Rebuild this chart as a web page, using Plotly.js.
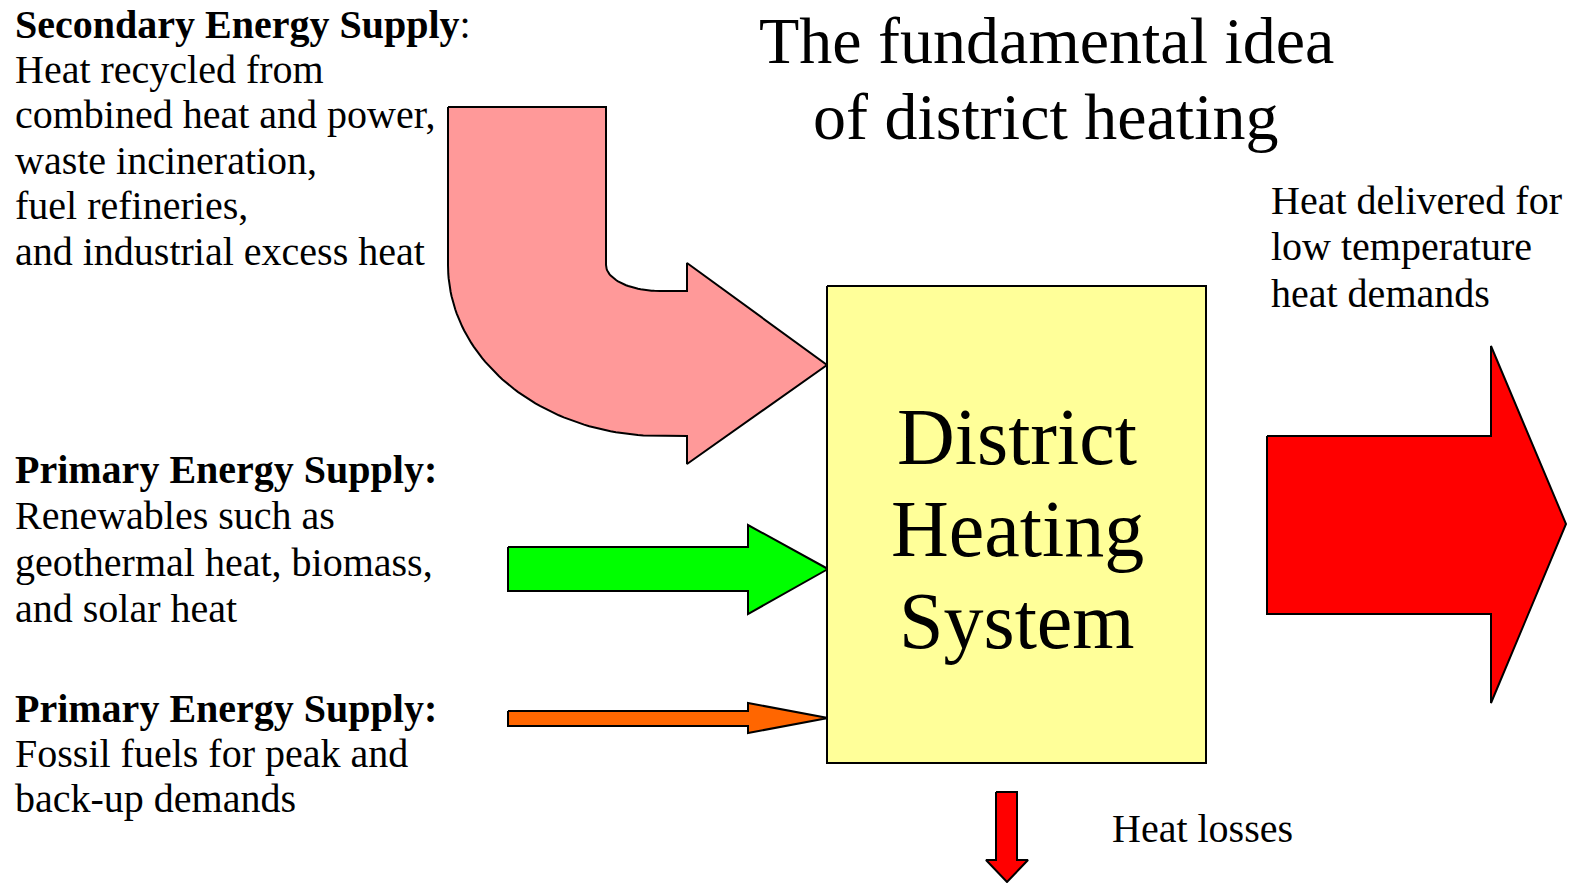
<!DOCTYPE html>
<html>
<head>
<meta charset="utf-8">
<script src="https://cdn.plot.ly/plotly-3.0.1.min.js"></script>
<style>html,body{margin:0;padding:0;background:#fff;}#chart{width:1572px;height:883px;}</style>
</head>
<body>
<div id="chart"></div>
<script>
// ---- Diagram geometry (pixel space, y downward) ----
const boxX = [827, 1206, 1206, 827, 827];
const boxY = [286, 286, 763, 763, 286];

const greenX = [508, 748, 748, 828, 748, 748, 508, 508];
const greenY = [547, 547, 525, 569, 614, 591, 591, 547];

const orangeX = [508, 748, 748, 828, 748, 748, 508, 508];
const orangeY = [711, 711, 703, 718, 733, 726, 726, 711];

const redX = [1267, 1491, 1491, 1566, 1491, 1491, 1267, 1267];
const redY = [436, 436, 346, 524, 703, 614, 614, 436];

const lossX = [996, 1017, 1017, 1028, 1007, 986, 996, 996];
const lossY = [792, 792, 860, 860, 882, 860, 860, 792];

const pinkTopX = [448, 606];
const pinkTopY = [107, 107];
const pinkHeadX = [687, 687, 827, 687, 687];
const pinkHeadY = [291, 263, 365, 464, 436];
const bendCenter = [660, 265];
const innerRadii = [54, 26];
const outerRadii = [212, 171];

// ---- Text lines ----
const titleLines = ["The fundamental idea", "of district heating"];
const boxLines = ["District", "Heating", "System"];
const secLines = ["<b>Secondary Energy Supply</b>:", "Heat recycled from", "combined heat and power,", "waste incineration,", "fuel refineries,", "and industrial excess heat"];
const renLines = ["<b>Primary Energy Supply:</b>", "Renewables such as", "geothermal heat, biomass,", "and solar heat"];
const fosLines = ["<b>Primary Energy Supply:</b>", "Fossil fuels for peak and", "back-up demands"];
const delLines = ["Heat delivered for", "low temperature", "heat demands"];
const lossLines = ["Heat losses"];

// ---- Text placement (block anchor, first-line centre, line pitch, size) ----
const blocks = [
  {lines: titleLines, x: 1046, y0: 40, dy: 76, size: 66, anchor: 'center'},
  {lines: boxLines, x: 1017, y0: 437, dy: 92, size: 80, anchor: 'center'},
  {lines: secLines, x: 14, y0: 24, dy: 45.4, size: 40, anchor: 'left'},
  {lines: renLines, x: 14, y0: 469.5, dy: 46.3, size: 40, anchor: 'left'},
  {lines: fosLines, x: 14, y0: 708.5, dy: 45, size: 40, anchor: 'left'},
  {lines: delLines, x: 1270, y0: 200, dy: 46.5, size: 40, anchor: 'left'},
  {lines: lossLines, x: 1111, y0: 828.5, dy: 0, size: 40, anchor: 'left'}
];

function arc(cx, cy, rx, ry, a0, a1, n) {
  const xs = [], ys = [];
  for (let i = 0; i <= n; i++) {
    const a = a0 + (a1 - a0) * i / n;
    xs.push(cx + rx * Math.cos(a));
    ys.push(cy + ry * Math.sin(a));
  }
  return [xs, ys];
}
const inner = arc(bendCenter[0], bendCenter[1], innerRadii[0], innerRadii[1], Math.PI, Math.PI / 2, 30);
const outer = arc(bendCenter[0], bendCenter[1], outerRadii[0], outerRadii[1], Math.PI / 2, Math.PI, 60);
const pinkX = [...pinkTopX, ...inner[0], ...pinkHeadX, ...outer[0], pinkTopX[0]];
const pinkY = [...pinkTopY, ...inner[1], ...pinkHeadY, ...outer[1], pinkTopY[0]];

function poly(x, y, fill) {
  return {x: x, y: y, type: 'scatter', mode: 'lines', fill: 'toself', fillcolor: fill,
    line: {color: '#000', width: 2}, hoverinfo: 'skip', showlegend: false};
}

const traces = [
  poly(pinkX, pinkY, '#FF9999'),
  poly(greenX, greenY, '#00FF00'),
  poly(orangeX, orangeY, '#FF6600'),
  poly(boxX, boxY, '#FFFF99'),
  poly(redX, redY, '#FF0000'),
  poly(lossX, lossY, '#FF0000')
];

const serif = '"Liberation Serif", "Times New Roman", serif';
const annotations = [];
blocks.forEach(b => {
  b.lines.forEach((t, i) => {
    annotations.push({text: t, x: b.x, y: b.y0 + i * b.dy, xref: 'x', yref: 'y',
      showarrow: false, xanchor: b.anchor, yanchor: 'middle', align: b.anchor, borderpad: 0,
      font: {family: serif, size: b.size, color: '#000'}});
  });
});

const layout = {
  width: 1572, height: 883,
  margin: {l: 0, r: 0, t: 0, b: 0},
  paper_bgcolor: '#fff', plot_bgcolor: '#fff',
  xaxis: {range: [0, 1572], visible: false, fixedrange: true},
  yaxis: {range: [883, 0], visible: false, fixedrange: true},
  annotations: annotations
};

Plotly.newPlot('chart', traces, layout, {staticPlot: true, displayModeBar: false});
</script>
</body>
</html>
